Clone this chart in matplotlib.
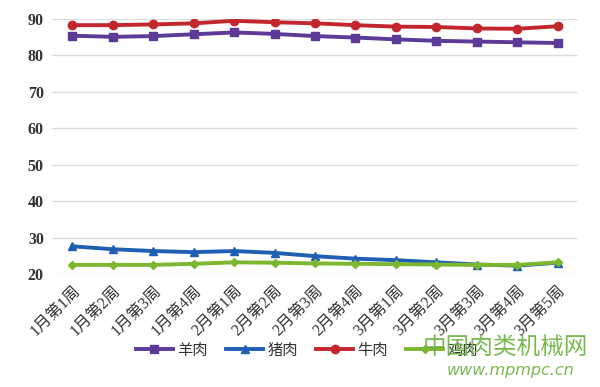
import matplotlib
matplotlib.use("Agg")
import matplotlib.pyplot as plt

# ── data ────────────────────────────────────────────
weeks = ["1月第1周", "1月第2周", "1月第3周", "1月第4周",
         "2月第1周", "2月第2周", "2月第3周", "2月第4周",
         "3月第1周", "3月第2周", "3月第3周", "3月第4周", "3月第5周"]
mutton = [85.4, 85.1, 85.3, 85.8, 86.3, 85.9, 85.3, 84.9, 84.4, 84.0, 83.8, 83.6, 83.4]
pork   = [27.6, 26.8, 26.3, 26.0, 26.3, 25.8, 24.9, 24.2, 23.8, 23.2, 22.6, 22.3, 23.1]
beef   = [88.3, 88.3, 88.5, 88.8, 89.5, 89.1, 88.8, 88.3, 87.9, 87.8, 87.4, 87.3, 88.0]
chicken = [22.5, 22.5, 22.5, 22.8, 23.2, 23.1, 22.9, 22.8, 22.7, 22.6, 22.5, 22.5, 23.2]
yticks = [20, 30, 40, 50, 60, 70, 80, 90]

FONT = ["Liberation Serif", "Noto Sans CJK SC", "DejaVu Sans"]
plt.rcParams["font.family"] = FONT

series = [
    ("羊肉", mutton,  "#5b3a98", "s"),
    ("猪肉", pork,    "#1f5fb4", "^"),
    ("牛肉", beef,    "#c3272e", "o"),
    ("鸡肉", chicken, "#7cb82f", "D"),
]

fig = plt.figure(figsize=(6.0, 3.87), dpi=100)
ax = fig.add_axes([0.087, 0.292, 0.876, 0.659])

x = range(len(weeks))
for name, vals, color, mk in series:
    ax.plot(x, vals, color=color, linewidth=2.8, marker=mk,
            markersize=6 if mk != "D" else 4, label=name, zorder=3)

ax.set_xlim(-0.5, len(weeks) - 0.5)
ax.set_ylim(20, 90)
ax.set_yticks(yticks)
ax.set_yticklabels([str(v) for v in yticks], fontsize=11.5, fontweight="bold",
                   color="#333333")
ax.set_xticks(list(x))
ax.set_xticklabels(weeks, rotation=45, ha="right", va="top",
                   rotation_mode="anchor", fontsize=11.5, color="#333333")
ax.tick_params(length=0, pad=6)
ax.grid(axis="y", color="#dddddd", linewidth=1)
for s in ax.spines.values():
    s.set_visible(False)

ax.legend(loc="center", bbox_to_anchor=(0.485, -0.30), ncol=4, frameon=False,
          fontsize=11, handlelength=2.4, handletextpad=0.3,
          columnspacing=1.2, labelcolor="#333333")

# watermark text
fig.text(0.705, 0.085, "中国肉类机械网", color="#6cb33f", fontsize=17,
         family=["Noto Sans CJK SC"], alpha=0.9)
fig.text(0.745, 0.03, "www.mpmpc.cn", color="#6cb33f", fontsize=11.5,
         style="italic", family=["DejaVu Sans"], alpha=0.9)

fig.savefig("out.png", dpi=100)
